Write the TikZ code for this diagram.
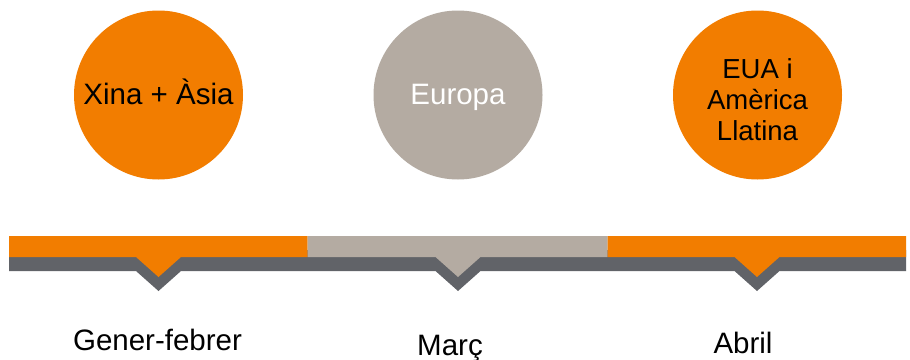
\documentclass[tikz,border=0pt]{standalone}
\usepackage{fontspec}
\setmainfont{Liberation Sans}
\definecolor{orng}{RGB}{242,125,0}
\definecolor{taupe}{RGB}{180,171,162}
\definecolor{slate}{RGB}{97,99,104}
\begin{document}
\begin{tikzpicture}[x=1pt,y=-1pt,
  bubble/.style={circle, minimum size=169pt, inner sep=0pt, draw=none},
  big/.style={font=\fontsize{29.5}{31}\selectfont, inner sep=0pt},
  mid/.style={font=\fontsize{27.5}{31}\selectfont, inner sep=0pt, align=center},
]
\useasboundingbox (0,0) rectangle (910,359);
\fill[white] (0,0) rectangle (910,359);

% circles
\node[bubble, fill=orng] (c1) at (158.5,95) {};
\node[bubble, fill=taupe] (c2) at (458,95) {};
\node[bubble, fill=orng] (c3) at (757.5,95) {};
\node[big, anchor=base, text=black] (t1) at (158.5,104.3) {Xina + Àsia};
\node[big, anchor=base, text=white] (t2) at (458,104.3) {Europa};
\node[mid, anchor=center, text=black] (t3) at (757.5,99.3) {EUA i\\Amèrica\\Llatina};

% dark band with chevrons
\fill[slate] (9,250) -- (906,250) -- (906,271)
  -- (779.5,271) -- (757,291) -- (734.5,271)
  -- (480.5,271) -- (458,291) -- (435.5,271)
  -- (181,271) -- (158.5,291) -- (136,271)
  -- (9,271) -- cycle;

% coloured segments with pointers
\fill[orng] (9,236) -- (307.5,236) -- (307.5,257) -- (181,257) -- (158.5,277) -- (136,257) -- (9,257) -- cycle;
\fill[taupe] (307.5,236) -- (607.5,236) -- (607.5,257) -- (480.5,257) -- (458,277) -- (435.5,257) -- (307.5,257) -- cycle;
\fill[orng] (607.5,236) -- (906,236) -- (906,257) -- (779.5,257) -- (757,277) -- (734.5,257) -- (607.5,257) -- cycle;

% month labels
\node[big, anchor=base] (m1) at (157.5,350) {Gener-febrer};
\node[big, anchor=base] (m2) at (450,355) {Març};
\node[big, anchor=base] (m3) at (743,353.3) {Abril};
\end{tikzpicture}
\end{document}
